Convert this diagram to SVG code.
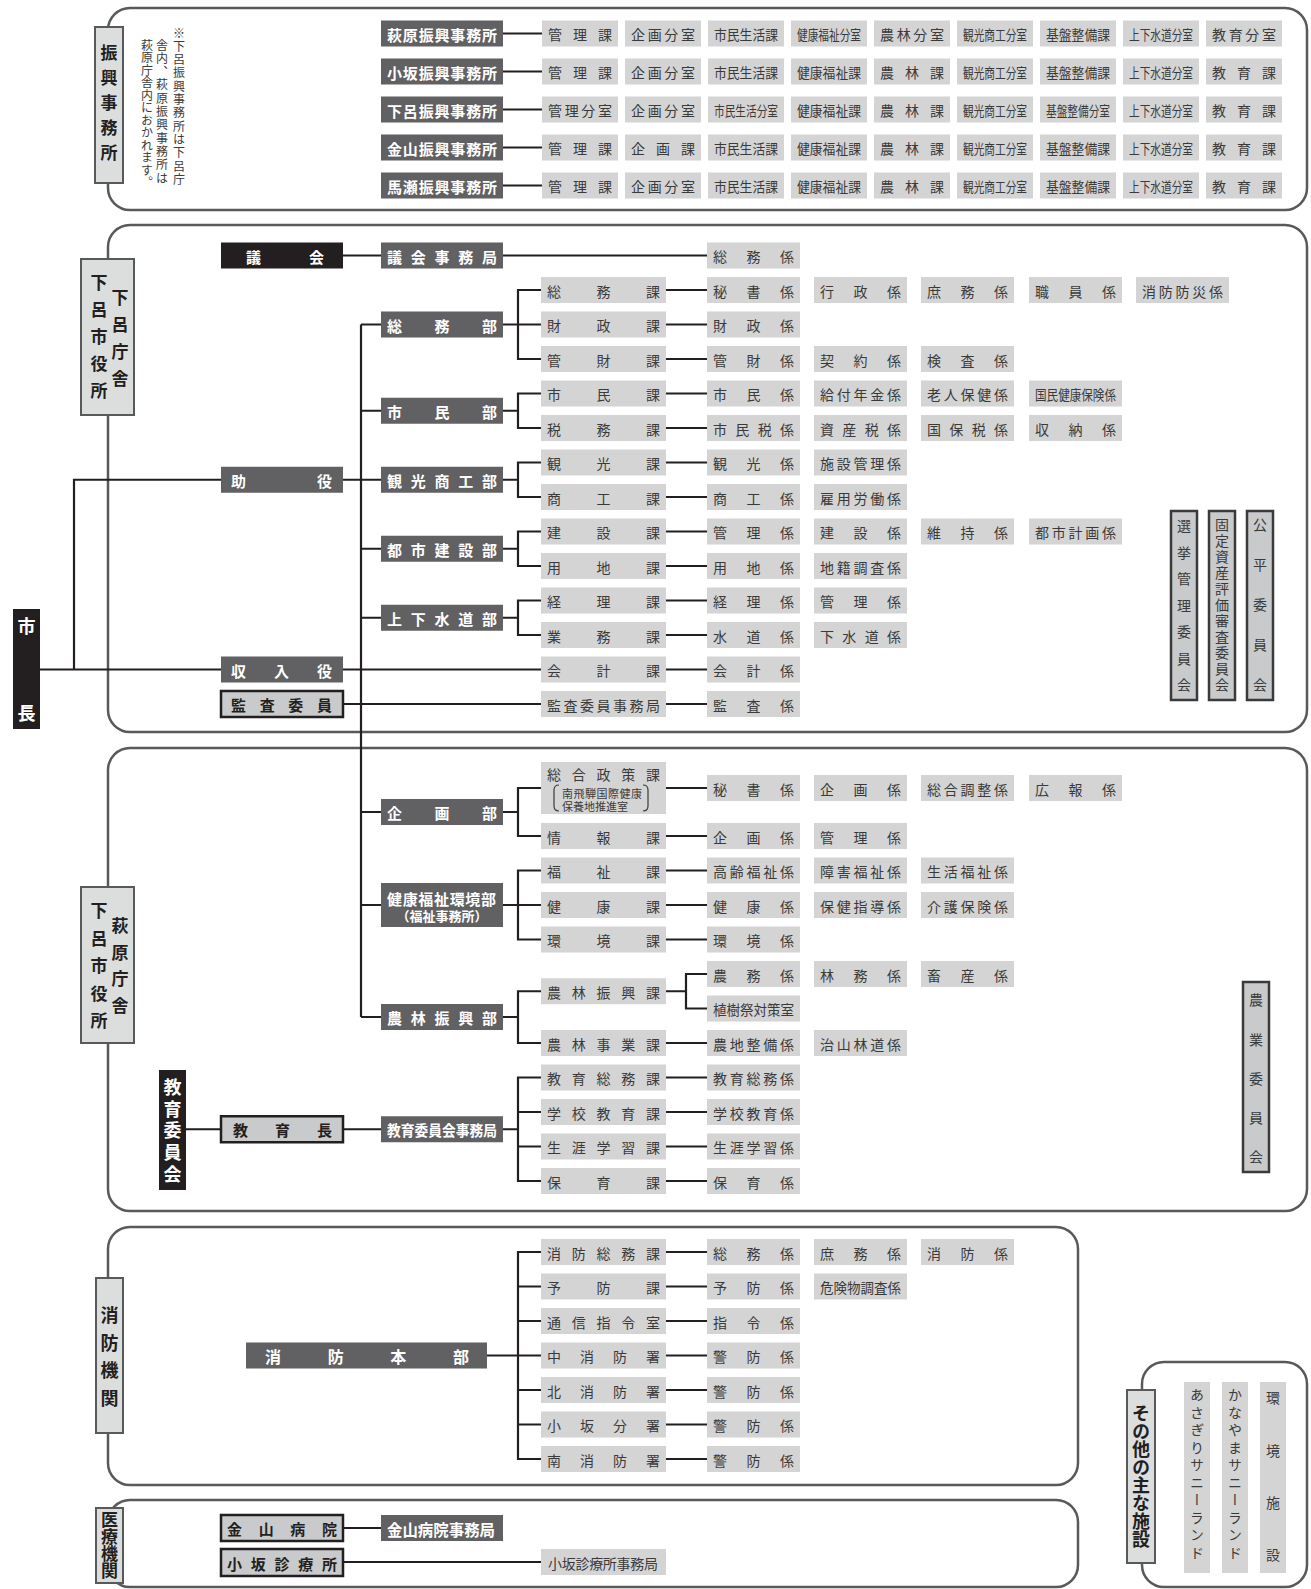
<svg xmlns="http://www.w3.org/2000/svg" width="1311" height="1589" viewBox="0 0 1311 1589">
<style>
text{font-family:'Noto Sans CJK JP','Noto Sans CJK SC',sans-serif}
.sec{fill:none;stroke:#58595b;stroke-width:2.5}
.gb{fill:#d4d4d5}
.db{fill:#616163}
.kb{fill:#231f20}
.lb{fill:#dcdddd;stroke:#58595b;stroke-width:2}
.bb{fill:#c9cacb;stroke:#231f20;stroke-width:2.5}
.cb{fill:#c9cacb;stroke:#3a3a3a;stroke-width:2.5}
.gt{font-size:14px;fill:#3a3a3a;dominant-baseline:central}
.st{font-size:11px;fill:#3a3a3a;dominant-baseline:central}
.wt{font-size:15px;fill:#fff;font-weight:bold;dominant-baseline:central}
.kt{font-size:15px;fill:#231f20;font-weight:bold;dominant-baseline:central}
.v{writing-mode:vertical-rl}
.vb{font-weight:bold;fill:#231f20}
.vg{fill:#3a3a3a}
.vw{font-weight:bold;fill:#fff}
#connectors path{fill:none;stroke:#231f20;stroke-width:2.2}
.br{fill:none;stroke:#3a3a3a;stroke-width:1.2}
</style>

<g id="sections">
<rect class="sec" x="108" y="8" width="1199" height="202" rx="22"/>
<rect class="sec" x="108" y="225" width="1199" height="507" rx="22"/>
<rect class="sec" x="108" y="748" width="1199" height="463" rx="22"/>
<rect class="sec" x="108" y="1227" width="970" height="258" rx="22"/>
<rect class="sec" x="108" y="1500" width="970" height="87" rx="22"/>
<rect class="sec" x="1142" y="1362" width="165" height="225" rx="22"/>
</g>

<g id="connectors">
<path d="M503,33.5H542M503,71.5H542M503,109.5H542M503,147.5H542M503,185.5H542"/>
<path d="M40,669.5H541M74,669.5V479.75H381M343,255.5H707M343,704H541"/>
<path d="M361,324.5V1017M361,324.5H541M541,290H518V359H541"/>
<path d="M361,410.75H518M541,393.5H518V428H541"/>
<path d="M503,479.75H518M541,462.5H518V497H541"/>
<path d="M361,548.75H518M541,531.5H518V566H541"/>
<path d="M361,617.75H518M541,600.5H518V635H541"/>
<path d="M666,290H707M666,324.5H707M666,359H707M666,393.5H707M666,428H707M666,462.5H707M666,497H707M666,531.5H707M666,566H707M666,600.5H707M666,635H707M666,669.5H707M666,704H707"/>
<path d="M361,812H518M541,788H518V836H541"/>
<path d="M361,905H541M541,870.5H518V939.5H541"/>
<path d="M361,1017H518M541,991.25H518V1043H541"/>
<path d="M186,1129.25H518M541,1077.5H518V1181H541M518,1112H541M518,1146.5H541"/>
<path d="M666,788H707M666,836H707M666,870.5H707M666,905H707M666,939.5H707M666,1043H707M666,1077.5H707M666,1112H707M666,1146.5H707M666,1181H707"/>
<path d="M666,991.25H686M707,974H686V1008.5H707"/>
<path d="M487,1355.5H541M541,1252H518V1459H541M518,1286.5H541M518,1321H541M518,1390H541M518,1424.5H541"/>
<path d="M666,1252H707M666,1286.5H707M666,1321H707M666,1355.5H707M666,1390H707M666,1424.5H707M666,1459H707"/>
<path d="M343,1528H381M343,1562H541"/>
</g>

<!-- Section 1: 振興事務所 -->
<g id="label-shinko"><rect class="lb" x="95" y="27" width="28" height="156"/><text class="v vb" x="109" y="44.5" font-size="17" letter-spacing="8">振興事務所</text></g>
<g id="note"><text class="v vg" x="179" y="27" font-size="12" letter-spacing="1.3">※下呂振興事務所は下呂庁</text><text class="v vg" x="162" y="39" font-size="12" letter-spacing="1.3">舎内、萩原振興事務所は</text><text class="v vg" x="147" y="39" font-size="12" letter-spacing="0.5">萩原庁舎内におかれます。</text></g>

<g id="hagiwara-shinko"><rect class="db" x="381" y="20.5" width="122" height="26"/><text class="wt" x="387" y="34" textLength="110">萩原振興事務所</text></g>
<g id="osaka-shinko"><rect class="db" x="381" y="58.5" width="122" height="26"/><text class="wt" x="387" y="72" textLength="110">小坂振興事務所</text></g>
<g id="gero-shinko"><rect class="db" x="381" y="96.5" width="122" height="26"/><text class="wt" x="387" y="110" textLength="110">下呂振興事務所</text></g>
<g id="kanayama-shinko"><rect class="db" x="381" y="134.5" width="122" height="26"/><text class="wt" x="387" y="148" textLength="110">金山振興事務所</text></g>
<g id="maze-shinko"><rect class="db" x="381" y="172.5" width="122" height="26"/><text class="wt" x="387" y="186" textLength="110">馬瀬振興事務所</text></g>

<g id="r1c1"><rect class="gb" x="542" y="20.5" width="76" height="26"/><text class="gt" x="548" y="34" textLength="64">管理課</text></g>
<g id="r1c2"><rect class="gb" x="625" y="20.5" width="76" height="26"/><text class="gt" x="631" y="34" textLength="64">企画分室</text></g>
<g id="r1c3"><rect class="gb" x="708" y="20.5" width="76" height="26"/><text class="gt" x="714" y="34" textLength="64" lengthAdjust="spacingAndGlyphs">市民生活課</text></g>
<g id="r1c4"><rect class="gb" x="791" y="20.5" width="76" height="26"/><text class="gt" x="797" y="34" textLength="64" lengthAdjust="spacingAndGlyphs">健康福祉分室</text></g>
<g id="r1c5"><rect class="gb" x="874" y="20.5" width="76" height="26"/><text class="gt" x="880" y="34" textLength="64">農林分室</text></g>
<g id="r1c6"><rect class="gb" x="957" y="20.5" width="76" height="26"/><text class="gt" x="963" y="34" textLength="64" lengthAdjust="spacingAndGlyphs">観光商工分室</text></g>
<g id="r1c7"><rect class="gb" x="1040" y="20.5" width="76" height="26"/><text class="gt" x="1046" y="34" textLength="64" lengthAdjust="spacingAndGlyphs">基盤整備課</text></g>
<g id="r1c8"><rect class="gb" x="1123" y="20.5" width="76" height="26"/><text class="gt" x="1129" y="34" textLength="64" lengthAdjust="spacingAndGlyphs">上下水道分室</text></g>
<g id="r1c9"><rect class="gb" x="1206" y="20.5" width="76" height="26"/><text class="gt" x="1212" y="34" textLength="64">教育分室</text></g>

<g id="r2c1"><rect class="gb" x="542" y="58.5" width="76" height="26"/><text class="gt" x="548" y="72" textLength="64">管理課</text></g>
<g id="r2c2"><rect class="gb" x="625" y="58.5" width="76" height="26"/><text class="gt" x="631" y="72" textLength="64">企画分室</text></g>
<g id="r2c3"><rect class="gb" x="708" y="58.5" width="76" height="26"/><text class="gt" x="714" y="72" textLength="64" lengthAdjust="spacingAndGlyphs">市民生活課</text></g>
<g id="r2c4"><rect class="gb" x="791" y="58.5" width="76" height="26"/><text class="gt" x="797" y="72" textLength="64" lengthAdjust="spacingAndGlyphs">健康福祉課</text></g>
<g id="r2c5"><rect class="gb" x="874" y="58.5" width="76" height="26"/><text class="gt" x="880" y="72" textLength="64">農林課</text></g>
<g id="r2c6"><rect class="gb" x="957" y="58.5" width="76" height="26"/><text class="gt" x="963" y="72" textLength="64" lengthAdjust="spacingAndGlyphs">観光商工分室</text></g>
<g id="r2c7"><rect class="gb" x="1040" y="58.5" width="76" height="26"/><text class="gt" x="1046" y="72" textLength="64" lengthAdjust="spacingAndGlyphs">基盤整備課</text></g>
<g id="r2c8"><rect class="gb" x="1123" y="58.5" width="76" height="26"/><text class="gt" x="1129" y="72" textLength="64" lengthAdjust="spacingAndGlyphs">上下水道分室</text></g>
<g id="r2c9"><rect class="gb" x="1206" y="58.5" width="76" height="26"/><text class="gt" x="1212" y="72" textLength="64">教育課</text></g>

<g id="r3c1"><rect class="gb" x="542" y="96.5" width="76" height="26"/><text class="gt" x="548" y="110" textLength="64">管理分室</text></g>
<g id="r3c2"><rect class="gb" x="625" y="96.5" width="76" height="26"/><text class="gt" x="631" y="110" textLength="64">企画分室</text></g>
<g id="r3c3"><rect class="gb" x="708" y="96.5" width="76" height="26"/><text class="gt" x="714" y="110" textLength="64" lengthAdjust="spacingAndGlyphs">市民生活分室</text></g>
<g id="r3c4"><rect class="gb" x="791" y="96.5" width="76" height="26"/><text class="gt" x="797" y="110" textLength="64" lengthAdjust="spacingAndGlyphs">健康福祉課</text></g>
<g id="r3c5"><rect class="gb" x="874" y="96.5" width="76" height="26"/><text class="gt" x="880" y="110" textLength="64">農林課</text></g>
<g id="r3c6"><rect class="gb" x="957" y="96.5" width="76" height="26"/><text class="gt" x="963" y="110" textLength="64" lengthAdjust="spacingAndGlyphs">観光商工分室</text></g>
<g id="r3c7"><rect class="gb" x="1040" y="96.5" width="76" height="26"/><text class="gt" x="1046" y="110" textLength="64" lengthAdjust="spacingAndGlyphs">基盤整備分室</text></g>
<g id="r3c8"><rect class="gb" x="1123" y="96.5" width="76" height="26"/><text class="gt" x="1129" y="110" textLength="64" lengthAdjust="spacingAndGlyphs">上下水道分室</text></g>
<g id="r3c9"><rect class="gb" x="1206" y="96.5" width="76" height="26"/><text class="gt" x="1212" y="110" textLength="64">教育課</text></g>

<g id="r4c1"><rect class="gb" x="542" y="134.5" width="76" height="26"/><text class="gt" x="548" y="148" textLength="64">管理課</text></g>
<g id="r4c2"><rect class="gb" x="625" y="134.5" width="76" height="26"/><text class="gt" x="631" y="148" textLength="64">企画課</text></g>
<g id="r4c3"><rect class="gb" x="708" y="134.5" width="76" height="26"/><text class="gt" x="714" y="148" textLength="64" lengthAdjust="spacingAndGlyphs">市民生活課</text></g>
<g id="r4c4"><rect class="gb" x="791" y="134.5" width="76" height="26"/><text class="gt" x="797" y="148" textLength="64" lengthAdjust="spacingAndGlyphs">健康福祉課</text></g>
<g id="r4c5"><rect class="gb" x="874" y="134.5" width="76" height="26"/><text class="gt" x="880" y="148" textLength="64">農林課</text></g>
<g id="r4c6"><rect class="gb" x="957" y="134.5" width="76" height="26"/><text class="gt" x="963" y="148" textLength="64" lengthAdjust="spacingAndGlyphs">観光商工分室</text></g>
<g id="r4c7"><rect class="gb" x="1040" y="134.5" width="76" height="26"/><text class="gt" x="1046" y="148" textLength="64" lengthAdjust="spacingAndGlyphs">基盤整備課</text></g>
<g id="r4c8"><rect class="gb" x="1123" y="134.5" width="76" height="26"/><text class="gt" x="1129" y="148" textLength="64" lengthAdjust="spacingAndGlyphs">上下水道分室</text></g>
<g id="r4c9"><rect class="gb" x="1206" y="134.5" width="76" height="26"/><text class="gt" x="1212" y="148" textLength="64">教育課</text></g>

<g id="r5c1"><rect class="gb" x="542" y="172.5" width="76" height="26"/><text class="gt" x="548" y="186" textLength="64">管理課</text></g>
<g id="r5c2"><rect class="gb" x="625" y="172.5" width="76" height="26"/><text class="gt" x="631" y="186" textLength="64">企画分室</text></g>
<g id="r5c3"><rect class="gb" x="708" y="172.5" width="76" height="26"/><text class="gt" x="714" y="186" textLength="64" lengthAdjust="spacingAndGlyphs">市民生活課</text></g>
<g id="r5c4"><rect class="gb" x="791" y="172.5" width="76" height="26"/><text class="gt" x="797" y="186" textLength="64" lengthAdjust="spacingAndGlyphs">健康福祉課</text></g>
<g id="r5c5"><rect class="gb" x="874" y="172.5" width="76" height="26"/><text class="gt" x="880" y="186" textLength="64">農林課</text></g>
<g id="r5c6"><rect class="gb" x="957" y="172.5" width="76" height="26"/><text class="gt" x="963" y="186" textLength="64" lengthAdjust="spacingAndGlyphs">観光商工分室</text></g>
<g id="r5c7"><rect class="gb" x="1040" y="172.5" width="76" height="26"/><text class="gt" x="1046" y="186" textLength="64" lengthAdjust="spacingAndGlyphs">基盤整備課</text></g>
<g id="r5c8"><rect class="gb" x="1123" y="172.5" width="76" height="26"/><text class="gt" x="1129" y="186" textLength="64" lengthAdjust="spacingAndGlyphs">上下水道分室</text></g>
<g id="r5c9"><rect class="gb" x="1206" y="172.5" width="76" height="26"/><text class="gt" x="1212" y="186" textLength="64">教育課</text></g>

<!-- Section 2: 下呂庁舎 -->
<g id="label-gero"><rect class="lb" x="81" y="259" width="53" height="156"/><text class="v vb" x="99" y="274.5" font-size="17" letter-spacing="10">下呂市役所</text><text class="v vb" x="120" y="289.5" font-size="17" letter-spacing="10">下呂庁舎</text></g>
<g id="shicho"><rect class="kb" x="13" y="609" width="27" height="120"/><text class="v vw" x="26.5" y="617 704" font-size="18">市長</text></g>

<g id="gikai"><rect class="kb" x="221" y="242.5" width="122" height="26"/><text class="wt" x="246" y="256" textLength="78">議会</text></g>
<g id="joyaku"><rect class="db" x="221" y="466.75" width="122" height="26"/><text class="wt" x="231" y="480.25" textLength="101">助役</text></g>
<g id="shunyuyaku"><rect class="db" x="221" y="656.5" width="122" height="26"/><text class="wt" x="231" y="670" textLength="101">収入役</text></g>
<g id="kansa"><rect class="bb" x="221" y="691" width="122" height="26"/><text class="kt" x="231" y="704.5" textLength="101">監査委員</text></g>

<g id="gikai-jimukyoku"><rect class="db" x="381" y="242.5" width="122" height="26"/><text class="wt" x="387" y="256" textLength="110">議会事務局</text></g>
<g id="somubu"><rect class="db" x="381" y="311.5" width="122" height="26"/><text class="wt" x="387" y="325" textLength="110">総務部</text></g>
<g id="shiminbu"><rect class="db" x="381" y="397.75" width="122" height="26"/><text class="wt" x="387" y="411.25" textLength="110">市民部</text></g>
<g id="kankobu"><rect class="db" x="381" y="466.75" width="122" height="26"/><text class="wt" x="387" y="480.25" textLength="110">観光商工部</text></g>
<g id="toshibu"><rect class="db" x="381" y="535.75" width="122" height="26"/><text class="wt" x="387" y="549.25" textLength="110">都市建設部</text></g>
<g id="suidobu"><rect class="db" x="381" y="604.75" width="122" height="26"/><text class="wt" x="387" y="618.25" textLength="110">上下水道部</text></g>

<g id="k-somu"><rect class="gb" x="541" y="277" width="125" height="26"/><text class="gt" x="547" y="290.5" textLength="113">総務課</text></g>
<g id="k-zaisei"><rect class="gb" x="541" y="311.5" width="125" height="26"/><text class="gt" x="547" y="325" textLength="113">財政課</text></g>
<g id="k-kanzai"><rect class="gb" x="541" y="346" width="125" height="26"/><text class="gt" x="547" y="359.5" textLength="113">管財課</text></g>
<g id="k-shimin"><rect class="gb" x="541" y="380.5" width="125" height="26"/><text class="gt" x="547" y="394" textLength="113">市民課</text></g>
<g id="k-zeimu"><rect class="gb" x="541" y="415" width="125" height="26"/><text class="gt" x="547" y="428.5" textLength="113">税務課</text></g>
<g id="k-kanko"><rect class="gb" x="541" y="449.5" width="125" height="26"/><text class="gt" x="547" y="463" textLength="113">観光課</text></g>
<g id="k-shoko"><rect class="gb" x="541" y="484" width="125" height="26"/><text class="gt" x="547" y="497.5" textLength="113">商工課</text></g>
<g id="k-kensetsu"><rect class="gb" x="541" y="518.5" width="125" height="26"/><text class="gt" x="547" y="532" textLength="113">建設課</text></g>
<g id="k-yochi"><rect class="gb" x="541" y="553" width="125" height="26"/><text class="gt" x="547" y="566.5" textLength="113">用地課</text></g>
<g id="k-keiri"><rect class="gb" x="541" y="587.5" width="125" height="26"/><text class="gt" x="547" y="601" textLength="113">経理課</text></g>
<g id="k-gyomu"><rect class="gb" x="541" y="622" width="125" height="26"/><text class="gt" x="547" y="635.5" textLength="113">業務課</text></g>
<g id="k-kaikei"><rect class="gb" x="541" y="656.5" width="125" height="26"/><text class="gt" x="547" y="670" textLength="113">会計課</text></g>
<g id="k-kansajimu"><rect class="gb" x="541" y="691" width="125" height="26"/><text class="gt" x="547" y="704.5" textLength="113">監査委員事務局</text></g>

<g id="a-somu0"><rect class="gb" x="707" y="242.5" width="93" height="26"/><text class="gt" x="713" y="256" textLength="81">総務係</text></g>
<g id="a-hisho"><rect class="gb" x="707" y="277" width="93" height="26"/><text class="gt" x="713" y="290.5" textLength="81">秘書係</text></g>
<g id="a-gyosei"><rect class="gb" x="814" y="277" width="93" height="26"/><text class="gt" x="820" y="290.5" textLength="81">行政係</text></g>
<g id="a-shomu"><rect class="gb" x="921" y="277" width="93" height="26"/><text class="gt" x="927" y="290.5" textLength="81">庶務係</text></g>
<g id="a-shokuin"><rect class="gb" x="1029" y="277" width="93" height="26"/><text class="gt" x="1035" y="290.5" textLength="81">職員係</text></g>
<g id="a-bosai"><rect class="gb" x="1136" y="277" width="93" height="26"/><text class="gt" x="1142" y="290.5" textLength="81">消防防災係</text></g>
<g id="a-zaisei"><rect class="gb" x="707" y="311.5" width="93" height="26"/><text class="gt" x="713" y="325" textLength="81">財政係</text></g>
<g id="a-kanzai"><rect class="gb" x="707" y="346" width="93" height="26"/><text class="gt" x="713" y="359.5" textLength="81">管財係</text></g>
<g id="a-keiyaku"><rect class="gb" x="814" y="346" width="93" height="26"/><text class="gt" x="820" y="359.5" textLength="81">契約係</text></g>
<g id="a-kensa"><rect class="gb" x="921" y="346" width="93" height="26"/><text class="gt" x="927" y="359.5" textLength="81">検査係</text></g>
<g id="a-shimin"><rect class="gb" x="707" y="380.5" width="93" height="26"/><text class="gt" x="713" y="394" textLength="81">市民係</text></g>
<g id="a-kyufu"><rect class="gb" x="814" y="380.5" width="93" height="26"/><text class="gt" x="820" y="394" textLength="81">給付年金係</text></g>
<g id="a-rojin"><rect class="gb" x="921" y="380.5" width="93" height="26"/><text class="gt" x="927" y="394" textLength="81">老人保健係</text></g>
<g id="a-kokuho"><rect class="gb" x="1029" y="380.5" width="93" height="26"/><text class="gt" x="1035" y="394" textLength="81" lengthAdjust="spacingAndGlyphs">国民健康保険係</text></g>
<g id="a-shiminzei"><rect class="gb" x="707" y="415" width="93" height="26"/><text class="gt" x="713" y="428.5" textLength="81">市民税係</text></g>
<g id="a-shisanzei"><rect class="gb" x="814" y="415" width="93" height="26"/><text class="gt" x="820" y="428.5" textLength="81">資産税係</text></g>
<g id="a-kokuhozei"><rect class="gb" x="921" y="415" width="93" height="26"/><text class="gt" x="927" y="428.5" textLength="81">国保税係</text></g>
<g id="a-shuno"><rect class="gb" x="1029" y="415" width="93" height="26"/><text class="gt" x="1035" y="428.5" textLength="81">収納係</text></g>
<g id="a-kanko"><rect class="gb" x="707" y="449.5" width="93" height="26"/><text class="gt" x="713" y="463" textLength="81">観光係</text></g>
<g id="a-shisetsu"><rect class="gb" x="814" y="449.5" width="93" height="26"/><text class="gt" x="820" y="463" textLength="81">施設管理係</text></g>
<g id="a-shoko"><rect class="gb" x="707" y="484" width="93" height="26"/><text class="gt" x="713" y="497.5" textLength="81">商工係</text></g>
<g id="a-koyo"><rect class="gb" x="814" y="484" width="93" height="26"/><text class="gt" x="820" y="497.5" textLength="81">雇用労働係</text></g>
<g id="a-kanri1"><rect class="gb" x="707" y="518.5" width="93" height="26"/><text class="gt" x="713" y="532" textLength="81">管理係</text></g>
<g id="a-kensetsu"><rect class="gb" x="814" y="518.5" width="93" height="26"/><text class="gt" x="820" y="532" textLength="81">建設係</text></g>
<g id="a-iji"><rect class="gb" x="921" y="518.5" width="93" height="26"/><text class="gt" x="927" y="532" textLength="81">維持係</text></g>
<g id="a-toshikeikaku"><rect class="gb" x="1029" y="518.5" width="93" height="26"/><text class="gt" x="1035" y="532" textLength="81">都市計画係</text></g>
<g id="a-yochi"><rect class="gb" x="707" y="553" width="93" height="26"/><text class="gt" x="713" y="566.5" textLength="81">用地係</text></g>
<g id="a-chiseki"><rect class="gb" x="814" y="553" width="93" height="26"/><text class="gt" x="820" y="566.5" textLength="81">地籍調査係</text></g>
<g id="a-keiri"><rect class="gb" x="707" y="587.5" width="93" height="26"/><text class="gt" x="713" y="601" textLength="81">経理係</text></g>
<g id="a-kanri2"><rect class="gb" x="814" y="587.5" width="93" height="26"/><text class="gt" x="820" y="601" textLength="81">管理係</text></g>
<g id="a-suido"><rect class="gb" x="707" y="622" width="93" height="26"/><text class="gt" x="713" y="635.5" textLength="81">水道係</text></g>
<g id="a-gesuido"><rect class="gb" x="814" y="622" width="93" height="26"/><text class="gt" x="820" y="635.5" textLength="81">下水道係</text></g>
<g id="a-kaikei"><rect class="gb" x="707" y="656.5" width="93" height="26"/><text class="gt" x="713" y="670" textLength="81">会計係</text></g>
<g id="a-kansa"><rect class="gb" x="707" y="691" width="93" height="26"/><text class="gt" x="713" y="704.5" textLength="81">監査係</text></g>

<g id="senkyo"><rect class="cb" x="1171" y="511" width="26" height="189"/><text class="v vg" x="1184" y="519 545.5 572 598.5 625 651.5 678" font-size="14">選挙管理委員会</text></g>
<g id="kotei"><rect class="cb" x="1209" y="511" width="26" height="189"/><text class="v vg" x="1222" y="518" font-size="14" letter-spacing="2">固定資産評価審査委員会</text></g>
<g id="kohei"><rect class="cb" x="1247" y="511" width="26" height="189"/><text class="v vg" x="1260" y="518 558 598 638 678" font-size="14">公平委員会</text></g>

<!-- Section 3: 萩原庁舎 -->
<g id="label-hagiwara"><rect class="lb" x="81" y="887" width="53" height="156"/><text class="v vb" x="99" y="902.5" font-size="17" letter-spacing="10.5">下呂市役所</text><text class="v vb" x="120" y="917.5" font-size="17" letter-spacing="9.5">萩原庁舎</text></g>

<g id="kikakubu"><rect class="db" x="381" y="799" width="122" height="26"/><text class="wt" x="387" y="812.5" textLength="110">企画部</text></g>
<g id="kenkobu"><rect class="db" x="381" y="883" width="122" height="44"/><text class="wt" x="387" y="898" textLength="109">健康福祉環境部</text><text class="wt" x="442" y="915" style="font-size:13px" text-anchor="middle">（福祉事務所）</text></g>
<g id="norinbu"><rect class="db" x="381" y="1004" width="122" height="26"/><text class="wt" x="387" y="1017.5" textLength="110">農林振興部</text></g>
<g id="kyoikuiinkai"><rect class="kb" x="159" y="1070" width="27" height="120"/><text class="v vw" x="172.5" y="1078" font-size="18" letter-spacing="3.75">教育委員会</text></g>
<g id="kyoikucho"><rect class="bb" x="221" y="1116.25" width="122" height="26"/><text class="kt" x="233" y="1129.75" textLength="99">教育長</text></g>
<g id="kyoikujimukyoku"><rect class="db" x="381" y="1116.25" width="122" height="26"/><text class="wt" x="387" y="1129.75" textLength="110" lengthAdjust="spacingAndGlyphs">教育委員会事務局</text></g>

<g id="k-sogoseisaku"><rect class="gb" x="541" y="762" width="125" height="52"/><text class="gt" x="547" y="774" textLength="113">総合政策課</text><text class="st" x="562" y="792.5" textLength="80">南飛騨国際健康</text><text class="st" x="562" y="805.5">保養地推進室</text><path class="br" d="M559,785Q554,785 554,790V806Q554,811 559,811M643,785Q648,785 648,790V806Q648,811 643,811"/></g>
<g id="k-joho"><rect class="gb" x="541" y="823" width="125" height="26"/><text class="gt" x="547" y="836.5" textLength="113">情報課</text></g>
<g id="k-fukushi"><rect class="gb" x="541" y="857.5" width="125" height="26"/><text class="gt" x="547" y="871" textLength="113">福祉課</text></g>
<g id="k-kenko"><rect class="gb" x="541" y="892" width="125" height="26"/><text class="gt" x="547" y="905.5" textLength="113">健康課</text></g>
<g id="k-kankyo"><rect class="gb" x="541" y="926.5" width="125" height="26"/><text class="gt" x="547" y="940" textLength="113">環境課</text></g>
<g id="k-norinshinko"><rect class="gb" x="541" y="978.25" width="125" height="26"/><text class="gt" x="547" y="991.75" textLength="113">農林振興課</text></g>
<g id="k-norinjigyo"><rect class="gb" x="541" y="1030" width="125" height="26"/><text class="gt" x="547" y="1043.5" textLength="113">農林事業課</text></g>
<g id="k-kyoikusomu"><rect class="gb" x="541" y="1064.5" width="125" height="26"/><text class="gt" x="547" y="1078" textLength="113">教育総務課</text></g>
<g id="k-gakko"><rect class="gb" x="541" y="1099" width="125" height="26"/><text class="gt" x="547" y="1112.5" textLength="113">学校教育課</text></g>
<g id="k-shogai"><rect class="gb" x="541" y="1133.5" width="125" height="26"/><text class="gt" x="547" y="1147" textLength="113">生涯学習課</text></g>
<g id="k-hoiku"><rect class="gb" x="541" y="1168" width="125" height="26"/><text class="gt" x="547" y="1181.5" textLength="113">保育課</text></g>

<g id="b-hisho"><rect class="gb" x="707" y="775" width="93" height="26"/><text class="gt" x="713" y="788.5" textLength="81">秘書係</text></g>
<g id="b-kikaku1"><rect class="gb" x="814" y="775" width="93" height="26"/><text class="gt" x="820" y="788.5" textLength="81">企画係</text></g>
<g id="b-sogochosei"><rect class="gb" x="921" y="775" width="93" height="26"/><text class="gt" x="927" y="788.5" textLength="81">総合調整係</text></g>
<g id="b-koho"><rect class="gb" x="1029" y="775" width="93" height="26"/><text class="gt" x="1035" y="788.5" textLength="81">広報係</text></g>
<g id="b-kikaku2"><rect class="gb" x="707" y="823" width="93" height="26"/><text class="gt" x="713" y="836.5" textLength="81">企画係</text></g>
<g id="b-kanri"><rect class="gb" x="814" y="823" width="93" height="26"/><text class="gt" x="820" y="836.5" textLength="81">管理係</text></g>
<g id="b-korei"><rect class="gb" x="707" y="857.5" width="93" height="26"/><text class="gt" x="713" y="871" textLength="81">高齢福祉係</text></g>
<g id="b-shogai"><rect class="gb" x="814" y="857.5" width="93" height="26"/><text class="gt" x="820" y="871" textLength="81">障害福祉係</text></g>
<g id="b-seikatsu"><rect class="gb" x="921" y="857.5" width="93" height="26"/><text class="gt" x="927" y="871" textLength="81">生活福祉係</text></g>
<g id="b-kenko"><rect class="gb" x="707" y="892" width="93" height="26"/><text class="gt" x="713" y="905.5" textLength="81">健康係</text></g>
<g id="b-hoken"><rect class="gb" x="814" y="892" width="93" height="26"/><text class="gt" x="820" y="905.5" textLength="81">保健指導係</text></g>
<g id="b-kaigo"><rect class="gb" x="921" y="892" width="93" height="26"/><text class="gt" x="927" y="905.5" textLength="81">介護保険係</text></g>
<g id="b-kankyo"><rect class="gb" x="707" y="926.5" width="93" height="26"/><text class="gt" x="713" y="940" textLength="81">環境係</text></g>
<g id="b-nomu"><rect class="gb" x="707" y="961" width="93" height="26"/><text class="gt" x="713" y="974.5" textLength="81">農務係</text></g>
<g id="b-rinmu"><rect class="gb" x="814" y="961" width="93" height="26"/><text class="gt" x="820" y="974.5" textLength="81">林務係</text></g>
<g id="b-chikusan"><rect class="gb" x="921" y="961" width="93" height="26"/><text class="gt" x="927" y="974.5" textLength="81">畜産係</text></g>
<g id="b-shokuju"><rect class="gb" x="707" y="995.5" width="93" height="26"/><text class="gt" x="713" y="1009" textLength="81" lengthAdjust="spacingAndGlyphs">植樹祭対策室</text></g>
<g id="b-nochi"><rect class="gb" x="707" y="1030" width="93" height="26"/><text class="gt" x="713" y="1043.5" textLength="81">農地整備係</text></g>
<g id="b-chisan"><rect class="gb" x="814" y="1030" width="93" height="26"/><text class="gt" x="820" y="1043.5" textLength="81">治山林道係</text></g>
<g id="b-kyoikusomu"><rect class="gb" x="707" y="1064.5" width="93" height="26"/><text class="gt" x="713" y="1078" textLength="81">教育総務係</text></g>
<g id="b-gakko"><rect class="gb" x="707" y="1099" width="93" height="26"/><text class="gt" x="713" y="1112.5" textLength="81">学校教育係</text></g>
<g id="b-shogaigakushu"><rect class="gb" x="707" y="1133.5" width="93" height="26"/><text class="gt" x="713" y="1147" textLength="81">生涯学習係</text></g>
<g id="b-hoiku"><rect class="gb" x="707" y="1168" width="93" height="26"/><text class="gt" x="713" y="1181.5" textLength="81">保育係</text></g>

<g id="nogyo"><rect class="cb" x="1243" y="982" width="26" height="190"/><text class="v vg" x="1256" y="993 1032.25 1071.5 1110.75 1150" font-size="14">農業委員会</text></g>

<!-- Section 4: 消防機関 -->
<g id="label-shobo"><rect class="lb" x="96" y="1278" width="27" height="155"/><text class="v vb" x="109.5" y="1306" font-size="18" letter-spacing="9.7">消防機関</text></g>
<g id="shobohonbu"><rect class="db" x="246" y="1342.5" width="241" height="26"/><text class="wt" x="265" y="1356" style="font-size:16px" textLength="204">消防本部</text></g>

<g id="c-somu"><rect class="gb" x="541" y="1239" width="125" height="26"/><text class="gt" x="547" y="1252.5" textLength="113">消防総務課</text></g>
<g id="c-yobo"><rect class="gb" x="541" y="1273.5" width="125" height="26"/><text class="gt" x="547" y="1287" textLength="113">予防課</text></g>
<g id="c-tsushin"><rect class="gb" x="541" y="1308" width="125" height="26"/><text class="gt" x="547" y="1321.5" textLength="113">通信指令室</text></g>
<g id="c-naka"><rect class="gb" x="541" y="1342.5" width="125" height="26"/><text class="gt" x="547" y="1356" textLength="113">中消防署</text></g>
<g id="c-kita"><rect class="gb" x="541" y="1377" width="125" height="26"/><text class="gt" x="547" y="1390.5" textLength="113">北消防署</text></g>
<g id="c-osaka"><rect class="gb" x="541" y="1411.5" width="125" height="26"/><text class="gt" x="547" y="1425" textLength="113">小坂分署</text></g>
<g id="c-minami"><rect class="gb" x="541" y="1446" width="125" height="26"/><text class="gt" x="547" y="1459.5" textLength="113">南消防署</text></g>

<g id="f-somu"><rect class="gb" x="707" y="1239" width="93" height="26"/><text class="gt" x="713" y="1252.5" textLength="81">総務係</text></g>
<g id="f-shomu"><rect class="gb" x="814" y="1239" width="93" height="26"/><text class="gt" x="820" y="1252.5" textLength="81">庶務係</text></g>
<g id="f-shobo"><rect class="gb" x="921" y="1239" width="93" height="26"/><text class="gt" x="927" y="1252.5" textLength="81">消防係</text></g>
<g id="f-yobo"><rect class="gb" x="707" y="1273.5" width="93" height="26"/><text class="gt" x="713" y="1287" textLength="81">予防係</text></g>
<g id="f-kikenbutsu"><rect class="gb" x="814" y="1273.5" width="93" height="26"/><text class="gt" x="820" y="1287" textLength="81" lengthAdjust="spacingAndGlyphs">危険物調査係</text></g>
<g id="f-shirei"><rect class="gb" x="707" y="1308" width="93" height="26"/><text class="gt" x="713" y="1321.5" textLength="81">指令係</text></g>
<g id="f-keibo1"><rect class="gb" x="707" y="1342.5" width="93" height="26"/><text class="gt" x="713" y="1356" textLength="81">警防係</text></g>
<g id="f-keibo2"><rect class="gb" x="707" y="1377" width="93" height="26"/><text class="gt" x="713" y="1390.5" textLength="81">警防係</text></g>
<g id="f-keibo3"><rect class="gb" x="707" y="1411.5" width="93" height="26"/><text class="gt" x="713" y="1425" textLength="81">警防係</text></g>
<g id="f-keibo4"><rect class="gb" x="707" y="1446" width="93" height="26"/><text class="gt" x="713" y="1459.5" textLength="81">警防係</text></g>

<!-- Section 5: 医療機関 -->
<g id="label-iryo"><rect class="lb" x="96" y="1508" width="27" height="75"/><text class="v vb" x="109.5" y="1511.5" font-size="17">医療機関</text></g>
<g id="kanayama-byoin"><rect class="bb" x="221" y="1515" width="122" height="26"/><text class="kt" x="227" y="1528.5" textLength="110">金山病院</text></g>
<g id="osaka-shinryojo"><rect class="bb" x="221" y="1549" width="122" height="27"/><text class="kt" x="227" y="1563" textLength="110">小坂診療所</text></g>
<g id="byoin-jimukyoku"><rect class="db" x="381" y="1515" width="122" height="26"/><text class="wt" x="387" y="1528.5" style="font-size:16px" textLength="108" lengthAdjust="spacingAndGlyphs">金山病院事務局</text></g>
<g id="shinryojo-jimukyoku"><rect class="gb" x="541" y="1549" width="125" height="26"/><text class="gt" x="548" y="1562.5" textLength="110">小坂診療所事務局</text></g>

<!-- Section 6: その他の主な施設 -->
<g id="label-shisetsu"><rect class="lb" x="1127" y="1390" width="28" height="173"/><text class="v vb" x="1141" y="1404" font-size="18">その他の主な施設</text></g>
<g id="asagiri"><rect class="gb" x="1184" y="1382" width="26" height="191"/><text class="v vg" x="1197" y="1388" font-size="14" letter-spacing="3.5">あさぎりサニーランド</text></g>
<g id="kanayama-sunny"><rect class="gb" x="1222" y="1382" width="26" height="191"/><text class="v vg" x="1235" y="1388" font-size="14" letter-spacing="3.5">かなやまサニーランド</text></g>
<g id="kankyo-shisetsu"><rect class="gb" x="1260" y="1382" width="26" height="191"/><text class="v vg" x="1273" y="1391 1443.3 1495.6 1548" font-size="14">環境施設</text></g>
</svg>
